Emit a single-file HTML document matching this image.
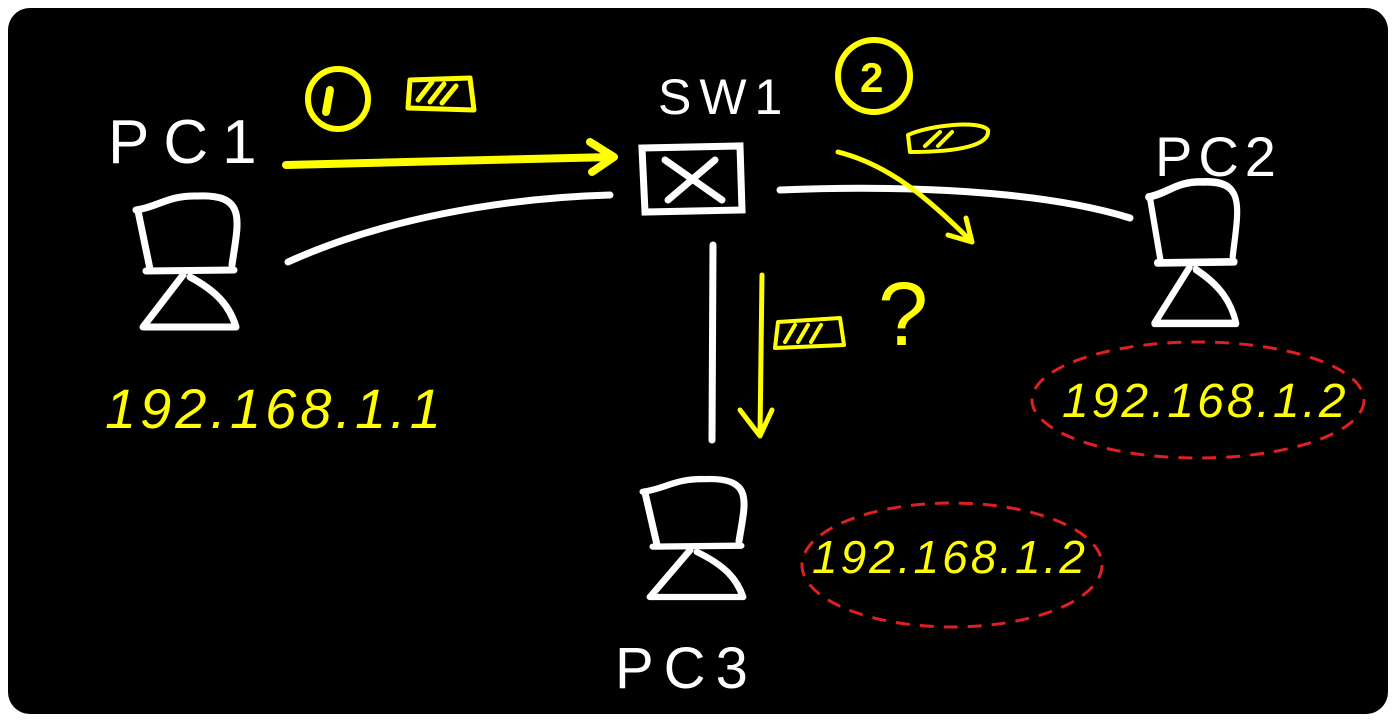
<!DOCTYPE html>
<html><head><style>
html,body{margin:0;padding:0;background:#fff;}
svg{display:block;}
text{font-family:"Liberation Sans",sans-serif;}
</style></head><body>
<svg width="1396" height="722" viewBox="0 0 1396 722" xmlns="http://www.w3.org/2000/svg">
<rect x="8" y="8" width="1380" height="706" rx="22" fill="#000"/>
<defs>
<g id="pc" fill="none" stroke="#fff" stroke-width="7" stroke-linecap="round" stroke-linejoin="round">
<path d="M0,14 L12,72 M-2,13 C20,10 30,-2 60,-1 C110,-3 100,25 94,68"/>
<path d="M8,74 L96,73"/>
<path d="M45,78 L5,130 L98,130 C92,110 80,95 52,80"/>
</g>
</defs>
<use href="#pc" transform="translate(138,197)"/>
<use href="#pc" transform="translate(1150,183) scale(0.88,1.08)"/>
<use href="#pc" transform="translate(645,480) scale(1,0.9)"/>
<g fill="#fff" font-size="62">
<text x="108" y="163" letter-spacing="14">PC1</text>
<text x="658" y="114" font-size="50" letter-spacing="8">SW1</text>
<text x="1155" y="176" font-size="56" letter-spacing="6">PC2</text>
<text x="615" y="688" font-size="58" letter-spacing="10">PC3</text>
</g>
<g fill="none" stroke="#fff" stroke-width="7" stroke-linecap="round">
<path d="M642,148 L740,146 L742,210 L645,212 Z"/>
<path d="M665,160 L722,200 M715,160 L668,200"/>
<path d="M288,262 C380,220 500,198 610,195"/>
<path d="M780,190 C900,185 1040,190 1130,218"/>
<path d="M713,245 L712,440"/>
</g>
<g fill="none" stroke="#ff0" stroke-width="8" stroke-linecap="round" stroke-linejoin="round">
<path d="M286,165 L612,157 M590,142 L614,157 L592,172"/>
<path d="M838,152 C890,165 930,200 972,242 M948,235 L972,242 L966,218" stroke-width="5"/>
<path d="M762,275 L760,435 M740,410 L760,436 L772,410" stroke-width="5"/>
<circle cx="338" cy="99" r="30" stroke-width="6"/>
<path d="M330,90 L326,112" />
<circle cx="874" cy="76" r="36" stroke-width="6"/>
<path d="M410,80 L470,78 L474,110 L408,108 Z M418,100 L432,82 M430,102 L444,84 M442,103 L456,86" stroke-width="5"/>
<path d="M908,135 C930,125 980,120 988,130 C990,145 960,152 910,152 Z M925,146 L940,132 M938,146 L952,132" stroke-width="4"/>
<path d="M778,322 L840,318 L844,345 L775,348 Z M785,342 L795,325 M798,342 L808,325 M811,342 L821,325" stroke-width="4"/>
</g>
<text x="860" y="92" fill="#ff0" font-size="42" font-weight="bold">2</text>
<text x="878" y="345" fill="#ff0" font-size="90">?</text>
<g fill="#ff0" font-size="56" font-style="italic">
<text x="105" y="428" letter-spacing="4">192.168.1.1</text>
<text x="1062" y="417" font-size="48" letter-spacing="3">192.168.1.2</text>
<text x="812" y="573" font-size="46" letter-spacing="3">192.168.1.2</text>
</g>
<g fill="none" stroke="#e02020" stroke-width="3" stroke-dasharray="14 10">
<ellipse cx="1198" cy="400" rx="166" ry="58"/>
<ellipse cx="952" cy="565" rx="150" ry="62"/>
</g>
</svg>
</body></html>
